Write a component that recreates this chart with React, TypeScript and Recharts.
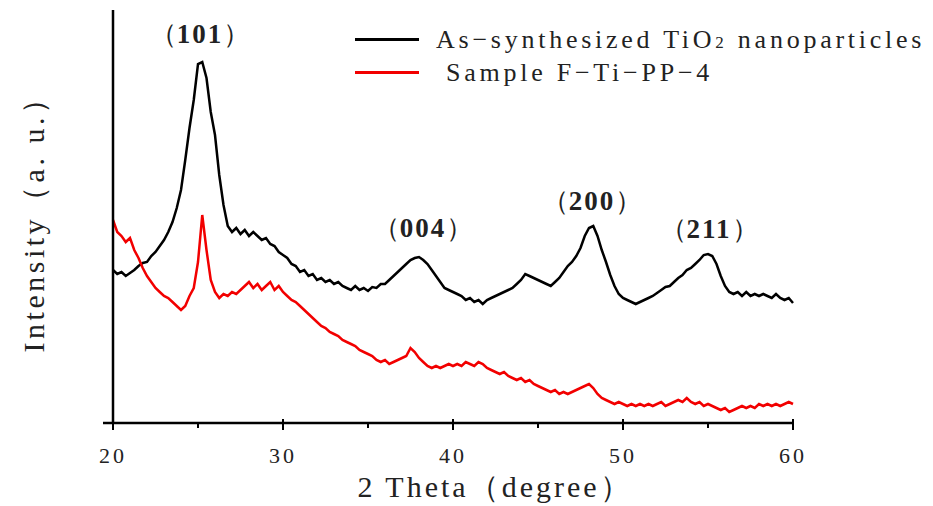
import React from 'react';
import { LineChart, Line, XAxis, YAxis, Legend, ReferenceDot } from 'recharts';

// 2 theta positions (degree)
const theta = [
  20, 20.25, 20.5, 20.75, 21, 21.25, 21.5, 21.75, 22, 22.25, 22.5, 22.75,
  23, 23.25, 23.5, 23.75, 24, 24.25, 24.5, 24.75, 25, 25.25, 25.5, 25.75,
  26, 26.25, 26.5, 26.75, 27, 27.25, 27.5, 27.75, 28, 28.25, 28.5, 28.75,
  29, 29.25, 29.5, 29.75, 30, 30.25, 30.5, 30.75, 31, 31.25, 31.5, 31.75,
  32, 32.25, 32.5, 32.75, 33, 33.25, 33.5, 33.75, 34, 34.25, 34.5, 34.75,
  35, 35.25, 35.5, 35.75, 36, 36.25, 36.5, 36.75, 37, 37.25, 37.5, 37.75,
  38, 38.25, 38.5, 38.75, 39, 39.25, 39.5, 39.75, 40, 40.25, 40.5, 40.75,
  41, 41.25, 41.5, 41.75, 42, 42.25, 42.5, 42.75, 43, 43.25, 43.5, 43.75,
  44, 44.25, 44.5, 44.75, 45, 45.25, 45.5, 45.75, 46, 46.25, 46.5, 46.75,
  47, 47.25, 47.5, 47.75, 48, 48.25, 48.5, 48.75, 49, 49.25, 49.5, 49.75,
  50, 50.25, 50.5, 50.75, 51, 51.25, 51.5, 51.75, 52, 52.25, 52.5, 52.75,
  53, 53.25, 53.5, 53.75, 54, 54.25, 54.5, 54.75, 55, 55.25, 55.5, 55.75,
  56, 56.25, 56.5, 56.75, 57, 57.25, 57.5, 57.75, 58, 58.25, 58.5, 58.75,
  59, 59.25, 59.5, 59.75, 60,
];

// As-synthesized TiO2 nanoparticles (a.u.)
const tio2 = [
  153, 149, 151, 147, 150, 153, 157, 160, 161, 167, 171, 177,
  183, 191, 201, 215, 233, 263, 295, 323, 359, 361, 345, 311,
  288, 248, 218, 197, 191, 195, 189, 193, 187, 191, 187, 183,
  185, 179, 177, 171, 168, 165, 159, 157, 151, 153, 147, 149,
  143, 145, 141, 143, 139, 141, 137, 135, 133, 137, 133, 135,
  132, 136, 135, 139, 139, 143, 147, 151, 155, 159, 163, 165,
  166, 163, 159, 153, 147, 141, 135, 133, 131, 129, 127, 123,
  125, 121, 123, 119, 123, 125, 127, 129, 131, 133, 135, 139,
  143, 149, 147, 145, 143, 141, 139, 137, 141, 145, 151, 157,
  161, 167, 175, 187, 195, 197, 187, 173, 161, 148, 137, 129,
  125, 123, 121, 119, 121, 123, 125, 127, 130, 133, 136, 137,
  141, 145, 148, 153, 155, 159, 163, 168, 169, 167, 159, 147,
  137, 131, 129, 131, 127, 131, 127, 129, 127, 129, 127, 125,
  129, 125, 123, 125, 120,
];

// Sample F-Ti-PP-4 (a.u.)
const sample = [
  203, 191, 187, 181, 185, 173, 165, 155, 147, 141, 135, 131,
  127, 125, 121, 117, 113, 117, 127, 135, 161, 208, 173, 143,
  131, 125, 129, 127, 131, 129, 133, 137, 141, 135, 139, 133,
  137, 141, 133, 137, 131, 127, 123, 121, 117, 113, 109, 105,
  101, 97, 95, 91, 89, 87, 83, 81, 79, 77, 73, 71,
  69, 67, 63, 61, 63, 59, 61, 63, 65, 67, 75, 71,
  65, 61, 57, 55, 57, 55, 57, 59, 57, 59, 57, 61,
  59, 57, 61, 59, 55, 53, 51, 49, 51, 47, 45, 43,
  45, 41, 43, 39, 37, 35, 33, 31, 33, 29, 31, 29,
  31, 33, 35, 37, 39, 35, 29, 25, 23, 21, 19, 21,
  19, 17, 19, 17, 19, 17, 19, 17, 19, 21, 17, 19,
  21, 23, 21, 25, 21, 19, 21, 17, 19, 17, 15, 13,
  15, 11, 13, 15, 17, 15, 17, 15, 19, 17, 19, 17,
  19, 17, 19, 21, 19,
];

const xTicks = [20, 25, 30, 35, 40, 45, 50, 55, 60];

const peaks = [
  { label: '101', theta: 25.12, intensity: 389 },
  { label: '004', theta: 38.24, intensity: 195 },
  { label: '200', theta: 48.18, intensity: 222 },
  { label: '211', theta: 55.06, intensity: 194 },
];

const series = [
  { key: 'tio2', color: '#000000', name: 'As-synthesized TiO2 nanoparticles' },
  { key: 'sample', color: '#f20000', name: 'Sample F-Ti-PP-4' },
];

const data = theta.map((t, i) => ({ theta: t, tio2: tio2[i], sample: sample[i] }));

const FONT = '"Liberation Serif", "Times New Roman", serif';

const XTick = (props: any) => {
  const { x, y, payload } = props;
  const v = payload.value;
  const major = v % 10 === 0;
  return (
    <g>
      {major ? (
        <line x1={x} x2={x} y1={y - 4} y2={y + 7} stroke="#000" strokeWidth={2} />
      ) : (
        <line x1={x} x2={x} y1={y} y2={y + 5} stroke="#000" strokeWidth={2} />
      )}
      {v === 20 && <line x1={x - 10} x2={x} y1={y} y2={y} stroke="#000" strokeWidth={2.5} />}
      {major && (
        <text x={x} y={y + 40} textAnchor="middle" fontFamily={FONT} fontSize={22} letterSpacing={3} fill="#222">
          {v}
        </text>
      )}
    </g>
  );
};

const PeakLabel = ({ cx, cy, text }: any) => (
  <text x={cx} y={cy} textAnchor="middle" dominantBaseline="central" fontFamily={FONT} fontSize={27} fill="#222">
    <tspan>（</tspan>
    <tspan fontWeight="bold" letterSpacing={2}>{text}</tspan>
    <tspan>）</tspan>
  </text>
);

const renderLegend = () => (
  <div style={{ fontFamily: FONT, color: '#222' }}>
    {series.map((s, i) => (
      <div key={s.key} style={{ display: 'flex', alignItems: 'center', height: 33 }}>
        <span style={{ display: 'inline-block', width: 64, height: 3, background: s.color }} />
        <span style={{ marginLeft: i === 0 ? 17 : 27, fontSize: 26, letterSpacing: 3.75, whiteSpace: 'nowrap' }}>
          {i === 0 ? (
            <>
              As−synthesized TiO<span style={{ fontSize: 17 }}>2</span> nanoparticles
            </>
          ) : (
            'Sample F−Ti−PP−4'
          )}
        </span>
      </div>
    ))}
  </div>
);

export default function App() {
  return (
    <div style={{ position: 'absolute', left: 0, top: 0, width: 933, height: 506, background: '#fff' }}>
      <LineChart width={933} height={506} data={data} margin={{ top: 10, right: 140, bottom: 0, left: 0 }}>
        <XAxis
          dataKey="theta"
          type="number"
          domain={[20, 60]}
          ticks={xTicks}
          interval={0}
          height={83}
          tickSize={0}
          tickMargin={0}
          tickLine={false}
          tick={<XTick />}
          axisLine={{ stroke: '#000', strokeWidth: 2.5 }}
          label={{
            content: (p: any) => {
              const vb = p.viewBox;
              return (
                <text x={vb.x + vb.width / 2 + 42} y={vb.y + 63} textAnchor="middle" dominantBaseline="central" fontFamily={FONT} fontSize={30} letterSpacing={3} fill="#222">
                  2 Theta（degree）
                </text>
              );
            },
          }}
        />
        <YAxis
          type="number"
          domain={[0, 413]}
          width={113}
          tick={false}
          tickLine={false}
          axisLine={{ stroke: '#000', strokeWidth: 2.5 }}
          label={{
            content: (p: any) => {
              const vb = p.viewBox;
              const cx = vb.x + 33;
              const cy = vb.y + vb.height / 2;
              return (
                <text x={cx} y={cy} transform={`rotate(-90, ${cx}, ${cy})`} textAnchor="middle" dominantBaseline="central" fontFamily={FONT} fontSize={30} letterSpacing={3.5} fill="#222">
                  Intensity（a. u.）
                </text>
              );
            },
          }}
        />
        <Legend
          content={renderLegend}
          layout="horizontal"
          verticalAlign="middle"
          align="center"
          wrapperStyle={{ position: 'absolute', left: 355, top: 23, width: 'auto' }}
        />
        {series.map((s) => (
          <Line
            key={s.key}
            dataKey={s.key}
            name={s.name}
            type="linear"
            stroke={s.color}
            strokeWidth={2.5}
            dot={false}
            isAnimationActive={false}
          />
        ))}
        {peaks.map((pk) => (
          <ReferenceDot
            key={pk.label}
            x={pk.theta}
            y={pk.intensity}
            r={0}
            shape={(p: any) => <PeakLabel cx={p.cx} cy={p.cy} text={pk.label} />}
          />
        ))}
      </LineChart>
    </div>
  );
}
